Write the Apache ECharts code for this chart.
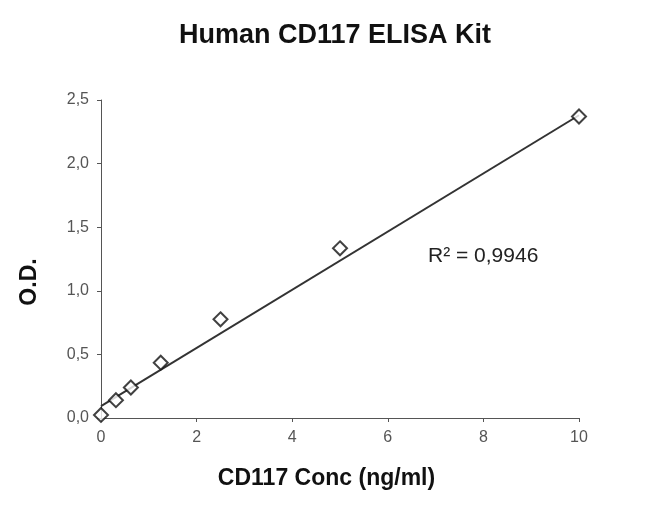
<!DOCTYPE html>
<html><head><meta charset="utf-8">
<script src="https://cdn.jsdelivr.net/npm/echarts@6/dist/echarts.min.js"></script>
<style>html,body{margin:0;padding:0;background:#fff}#c{width:650px;height:530px}</style>
</head><body><div id="c"></div>
<script>
var concentrations = [0, 0.3125, 0.625, 1.25, 2.5, 5, 10];
var odValues = [0.024, 0.14, 0.24, 0.435, 0.776, 1.334, 2.37];
var trendX = [0, 10];
var trendY = [0.094, 2.38];
var yTicks = [0, 0.5, 1.0, 1.5, 2.0, 2.5];
var xTicks = [0, 2, 4, 6, 8, 10];

var chart = echarts.init(document.getElementById('c'));
var font = 'Arial, "Liberation Sans", sans-serif';
chart.setOption({
  animation: false,
  title: {
    text: 'Human CD117 ELISA Kit',
    left: 330, top: 17, textAlign: 'center',
    textStyle: {fontFamily: font, fontSize: 27, fontWeight: 'bold', color: '#111'}
  },
  grid: {left: 101, right: 71, top: 100, bottom: 112},
  xAxis: {
    type: 'value', min: 0, max: 10, interval: 2,
    name: 'CD117 Conc (ng/ml)', nameLocation: 'middle', nameGap: 49,
    nameTextStyle: {fontFamily: font, fontSize: 23, fontWeight: 'bold', color: '#111',
      padding: [0, 27, 0, 0]},
    axisLine: {lineStyle: {color: '#555', width: 1}},
    axisTick: {show: true, length: 4, lineStyle: {color: '#555'}},
    axisLabel: {fontFamily: font, fontSize: 16, color: '#555', margin: 12,
      formatter: function(v){ return String(v); }},
    splitLine: {show: false}
  },
  yAxis: {
    type: 'value', min: 0, max: 2.5, interval: 0.5,
    name: 'O.D.', nameLocation: 'middle', nameGap: 60, nameRotate: 90,
    nameTextStyle: {fontFamily: font, fontSize: 23, fontWeight: 'bold', color: '#111',
      padding: [0, 46, 0, 0]},
    axisLine: {show: true, lineStyle: {color: '#555', width: 1}},
    axisTick: {show: true, length: 4, lineStyle: {color: '#555'}},
    axisLabel: {fontFamily: font, fontSize: 16, color: '#555', margin: 12,
      formatter: function(v){ return v.toFixed(1).replace('.', ','); }},
    splitLine: {show: false}
  },
  series: [
    {
      type: 'line',
      data: trendX.map(function(x, i){ return [x, trendY[i]]; }),
      showSymbol: false, symbol: 'none',
      lineStyle: {color: '#333', width: 2},
      silent: true, z: 2
    },
    {
      type: 'scatter',
      data: concentrations.map(function(x, i){ return [x, odValues[i]]; }),
      symbol: 'diamond', symbolSize: 14,
      itemStyle: {color: '#fff', borderColor: '#111', borderWidth: 2},
      z: 3
    }
  ],
  graphic: [{
    type: 'text', left: 428, top: 246,
    style: {text: 'R² = 0,9946', fontFamily: font, fontSize: 21, fill: '#222'}
  }]
});
</script>
</body></html>
